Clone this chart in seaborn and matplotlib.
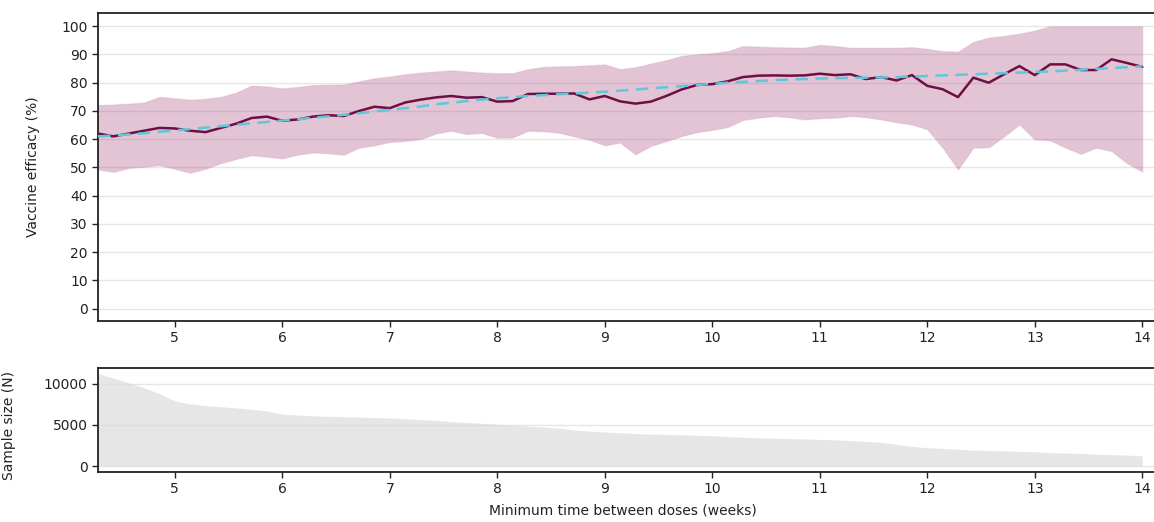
import numpy as np
import pandas as pd
import matplotlib
matplotlib.use("Agg")
import matplotlib.pyplot as plt
import seaborn as sns

# Minimum time between doses, in days (converted to weeks for plotting)
days = list(range(30, 99))

efficacy = [62.0, 61.0, 62.0, 63.0, 64.0, 63.8, 63.0, 62.5, 64.0, 65.5,
            67.5, 68.0, 66.5, 67.0, 68.0, 68.5, 68.2, 70.0, 71.5, 71.0,
            73.0, 74.0, 74.8, 75.3, 74.7, 74.9, 73.3, 73.5, 76.0, 76.1,
            76.1, 76.2, 74.1, 75.3, 73.4, 72.6, 73.3, 75.3, 77.6, 79.2,
            79.5, 80.5, 82.0, 82.5, 82.6, 82.5, 82.6, 83.2, 82.7, 83.0,
            81.3, 82.0, 80.8, 82.7, 78.9, 77.7, 74.9, 81.8, 80.0, 83.0,
            85.9, 82.7, 86.5, 86.5, 84.5, 84.5, 88.3, 87.0, 85.6]

ci_upper = [72.1, 72.3, 72.6, 73.0, 75.0, 74.5, 74.0, 74.3, 75.0, 76.5,
            79.0, 78.7, 78.0, 78.5, 79.2, 79.3, 79.4, 80.5, 81.6, 82.2,
            83.0, 83.6, 84.0, 84.4, 84.0, 83.6, 83.4, 83.4, 84.8, 85.6,
            85.8, 85.9, 86.2, 86.5, 84.8, 85.5, 86.8, 88.0, 89.5, 90.1,
            90.5, 91.2, 93.0, 92.8, 92.6, 92.5, 92.4, 93.4, 93.0, 92.4,
            92.4, 92.4, 92.4, 92.6, 92.0, 91.2, 91.0, 94.5, 96.0, 96.6,
            97.4, 98.5, 100.0, 100.0, 100.0, 100.0, 100.0, 100.0, 100.0]

ci_lower = [49.3, 48.4, 49.8, 50.2, 50.8, 49.5, 48.1, 49.5, 51.5, 53.0,
            54.3, 53.8, 53.2, 54.5, 55.3, 55.0, 54.5, 57.0, 57.8, 59.0,
            59.4, 60.0, 62.0, 63.0, 61.8, 62.2, 60.5, 60.6, 63.0, 62.8,
            62.3, 61.0, 59.8, 57.8, 58.8, 54.6, 57.6, 59.3, 61.1, 62.5,
            63.3, 64.3, 66.8, 67.6, 68.2, 67.8, 67.0, 67.4, 67.6, 68.2,
            67.8, 67.0, 66.0, 65.2, 63.5, 57.0, 49.3, 57.0, 57.1, 61.0,
            65.2, 59.9, 59.6, 57.0, 54.8, 57.0, 55.8, 51.5, 48.5]

trend = [61.0, 61.3, 61.7, 62.1, 62.6, 63.1, 63.6, 64.1, 64.6, 65.1,
         65.6, 66.1, 66.6, 67.1, 67.6, 68.1, 68.6, 69.2, 69.8, 70.4,
         71.0, 71.6, 72.4, 72.9, 73.5, 74.0, 74.5, 74.9, 75.3, 75.6,
         75.9, 76.2, 76.5, 76.8, 77.2, 77.6, 78.0, 78.4, 78.8, 79.2,
         79.6, 80.0, 80.3, 80.6, 80.9, 81.1, 81.3, 81.5, 81.6, 81.7,
         81.8, 81.9, 82.0, 82.2, 82.4, 82.6, 82.8, 83.0, 83.2, 83.4,
         83.6, 83.8, 84.0, 84.3, 84.6, 84.9, 85.2, 85.5, 85.8]

sample_size = [11200, 10700, 10100, 9500, 8800, 7900, 7550, 7350, 7200, 7050,
               6900, 6700, 6300, 6200, 6100, 6050, 6000, 5950, 5900, 5850,
               5750, 5650, 5550, 5400, 5300, 5200, 5100, 4950, 4850, 4750,
               4600, 4400, 4250, 4150, 4050, 3950, 3900, 3850, 3800, 3750,
               3700, 3600, 3500, 3450, 3400, 3350, 3300, 3250, 3200, 3100,
               3000, 2900, 2650, 2400, 2250, 2150, 2050, 1950, 1900, 1850,
               1800, 1750, 1650, 1600, 1550, 1450, 1400, 1350, 1250]

top_yticks = list(range(0, 101, 10))
bottom_yticks = [0, 5000, 10000]
xticks = list(range(5, 15))

df = pd.DataFrame({
    "weeks": np.array(days) / 7.0,
    "efficacy": efficacy,
    "lo": ci_lower,
    "hi": ci_upper,
    "trend": trend,
    "n": sample_size,
})

sns.set_theme(style="ticks")
plt.rcParams["font.family"] = ["DejaVu Sans"]

W, H = 1154, 522
fig = plt.figure(figsize=(W / 100, H / 100), dpi=100)

xmin = 30 / 7.0
px_per_week = 107.5
xmax = 14.6
left_px = 98
width_px = (xmax - xmin) * px_per_week

ax1 = fig.add_axes([left_px / W, 1 - 321 / H, width_px / W, (321 - 13) / H])
ax2 = fig.add_axes([left_px / W, 1 - 472 / H, width_px / W, (472 - 368) / H])

spine_col = "#222222"
for ax in (ax1, ax2):
    ax.grid(axis="y", color="#e6e6e6", linewidth=1.0, zorder=0)
    ax.set_axisbelow(True)
    for s in ("top", "left", "bottom", "right"):
        ax.spines[s].set_color(spine_col)
        ax.spines[s].set_linewidth(1.3)
    ax.tick_params(axis="both", direction="out", length=4, width=1.0,
                   color=spine_col, labelsize=10, labelcolor="#222222")
    ax.set_xlim(xmin, xmax)
    ax.set_xticks(xticks)
    ax.set_xticklabels([str(t) for t in xticks])

# Top panel
ax1.fill_between(df["weeks"], df["lo"], df["hi"], color="#a8487f", alpha=0.32,
                 linewidth=0.9, edgecolor="#cfa0bb", zorder=2)
sns.lineplot(data=df, x="weeks", y="efficacy", ax=ax1, color="#6e0f43",
             linewidth=1.8, zorder=3)
sns.lineplot(data=df, x="weeks", y="trend", ax=ax1, color="#5ec8da",
             linewidth=1.8, linestyle=(0, (5, 3)), zorder=4)
ax1.set_ylim(-4.4, 104.7)
ax1.set_yticks(top_yticks)
ax1.set_ylabel("Vaccine efficacy (%)", fontsize=10, color="#222222")
ax1.set_xlabel("")
ax1.yaxis.set_label_coords((40 - left_px) / width_px, 0.5)

# Bottom panel
ax2.fill_between(df["weeks"], 0, df["n"], color="#d9d9d9", alpha=0.65,
                 linewidth=0, zorder=2)
ax2.set_ylim(-700, 11900)
ax2.set_yticks(bottom_yticks)
ax2.set_ylabel("Sample size (N)", fontsize=10, color="#222222")
ax2.yaxis.set_label_coords((16 - left_px) / width_px, 0.45)
ax2.set_xlabel("Minimum time between doses (weeks)", fontsize=10,
               color="#222222")
ax2.xaxis.set_label_coords((623 - left_px) / width_px, -0.30)

fig.savefig("out.png", dpi=100)
